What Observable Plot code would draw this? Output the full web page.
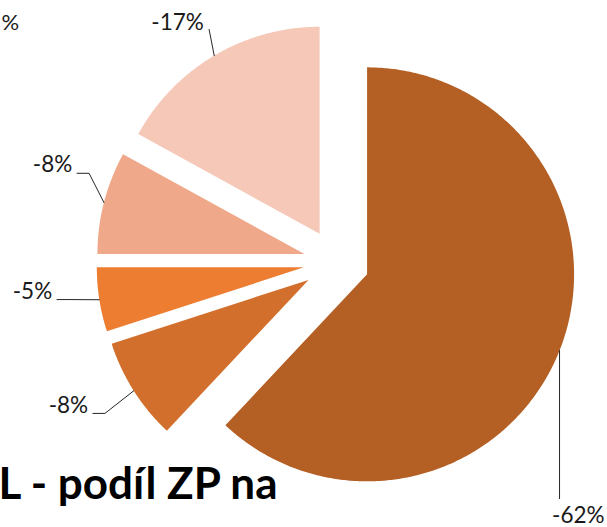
<!DOCTYPE html>
<html>
<head>
<meta charset="utf-8">
<script src="https://cdn.jsdelivr.net/npm/d3@7"></script>
<script src="https://cdn.jsdelivr.net/npm/@observablehq/plot@0.6"></script>
<style>
  html, body { margin: 0; padding: 0; background: #ffffff; }
  #chart { width: 607px; height: 527px; overflow: hidden; }
  #chart svg { display: block; background: #ffffff; }
</style>
</head>
<body>
<div id="chart"></div>
<script>
// ---- data ----
const slices = ["s1", "s2", "s3", "s4", "s5"];
const shares = [62, 8, 5, 8, 17];
const labels = ["-62%", "-8%", "-5%", "-8%", "-17%"];
const palette = ["#B45F24", "#D36F2C", "#ED7D31", "#F0A88A", "#F5C8B8"];
const titleText = "L - podíl ZP na";
const cutLabel = "%";

// ---- layout (code, not data) ----
const W = 607, H = 527;
const PX = 207;               // pixels per unit radius
const EXPLODE = 33 / PX;      // slice explosion distance
const cxPx = 335.9, cyPx = 261.7;
const xDomain = [-cxPx / PX, (W - cxPx) / PX];
const yDomain = [-(H - cyPx) / PX, cyPx / PX];
const u = 1 / PX;             // one pixel in data units

const labelLayout = [
  {dDeg: 27.2, r: 1.549, leader: "below"},
  {dDeg: 4.8,  r: 1.309, leader: "left"},
  {dDeg: 3.9,  r: 1.316, leader: "left"},
  {dDeg: 5.0,  r: 1.290, leader: "left"},
  {dDeg: -3.3, r: 1.230, leader: "above"}
];

const arcs = d3.pie().sort(null).value(d => d)(shares);

const wedgePts = [];
const labelPts = [];
const leaderPts = [];
arcs.forEach((p, i) => {
  const key = slices[i];
  const mid = (p.startAngle + p.endAngle) / 2;
  const ox = EXPLODE * Math.sin(mid), oy = EXPLODE * Math.cos(mid);
  wedgePts.push({key, x: ox, y: oy});
  const n = Math.max(2, Math.ceil((p.endAngle - p.startAngle) / (Math.PI / 360)));
  for (let k = 0; k <= n; k++) {
    const a = p.startAngle + (p.endAngle - p.startAngle) * k / n;
    wedgePts.push({key, x: ox + Math.sin(a), y: oy + Math.cos(a)});
  }
  wedgePts.push({key, x: ox, y: oy});

  const L = labelLayout[i];
  const la = mid + L.dDeg * Math.PI / 180;
  const lx = ox + L.r * Math.sin(la), ly = oy + L.r * Math.cos(la);
  labelPts.push({key, x: lx, y: ly, text: labels[i]});

  const ax = ox + Math.sin(mid), ay = oy + Math.cos(mid);
  let pts;
  if (L.leader === "left") {
    const ex = lx + 24.5 * u, ey = ly - 8 * u;
    pts = [[ax, ay], [ex + 12 * u, ey], [ex, ey]];
  } else if (L.leader === "above") {
    pts = [[ax, ay], [lx + 31.5 * u, ly - 7 * u]];
  } else {
    pts = [[ax, ay], [ax, ly + 17 * u]];
  }
  pts.forEach(([x, y]) => leaderPts.push({key, x, y}));
});

const chart = Plot.plot({
  width: W,
  height: H,
  margin: 0,
  style: {background: "#ffffff", fontFamily: "Lato, 'Open Sans', sans-serif"},
  x: {domain: xDomain, axis: null},
  y: {domain: yDomain, axis: null},
  color: {domain: slices, range: palette},
  marks: [
    Plot.line(wedgePts, {x: "x", y: "y", z: "key", fill: "key", stroke: "none"}),
    Plot.line(leaderPts, {x: "x", y: "y", z: "key", stroke: "#262626", strokeWidth: 1}),
    Plot.text(labelPts, {x: "x", y: "y", text: "text", fill: "#1a1a1a",
      fontSize: 22.5, textAnchor: "middle", lineAnchor: "middle"}),
    Plot.text([cutLabel], {frameAnchor: "top-left", textAnchor: "start", lineAnchor: "middle",
      dx: 1, dy: 22, fontSize: 22, fill: "#1a1a1a"}),
    Plot.text([titleText], {frameAnchor: "bottom-left", textAnchor: "start", lineAnchor: "middle",
      dx: -2, dy: -43, fontSize: 44, fontWeight: "bold", fill: "#000000",
      letterSpacing: "-2px"})
  ]
});

document.getElementById("chart").appendChild(chart);
</script>
</body>
</html>
